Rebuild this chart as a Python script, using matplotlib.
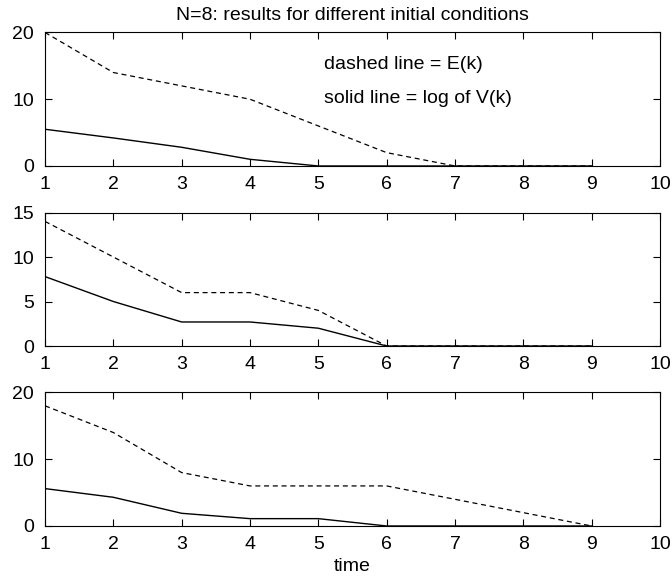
import matplotlib
matplotlib.use("Agg")
import matplotlib.pyplot as plt

plt.rcParams["font.family"] = ["Liberation Sans", "DejaVu Sans"]
plt.rcParams["font.size"] = 14

time = [1, 2, 3, 4, 5, 6, 7, 8, 9]

E1 = [20, 14, 12, 10, 6, 2, 0, 0, 0]
V1 = [5.5, 4.2, 2.8, 1.0, 0, 0, 0, 0, 0]

E2 = [14, 10, 6, 6, 4, 0, 0, 0, 0]
V2 = [7.8, 5.0, 2.7, 2.7, 2.0, 0, 0, 0, 0]

E3 = [18, 14, 8, 6, 6, 6, 4, 2, 0]
V3 = [5.6, 4.3, 1.9, 1.1, 1.1, 0, 0, 0, 0]

ylims = [(0, 20), (0, 15), (0, 20)]
yticks = [[0, 10, 20], [0, 5, 10, 15], [0, 10, 20]]

fig = plt.figure(figsize=(6.72, 5.83), dpi=100)

bottoms = [0.7153, 0.4065, 0.0978]
series = [(E1, V1), (E2, V2), (E3, V3)]

for i in range(3):
    ax = fig.add_axes([0.067, bottoms[i], 0.915, 0.229])
    E, V = series[i]
    ax.plot(time, E, "k--", linewidth=0.9, dashes=(4, 3))
    ax.plot(time, V, "k-", linewidth=1.0)
    ax.set_xlim(1, 10)
    ax.set_ylim(*ylims[i])
    ax.set_xticks(range(1, 11))
    ax.set_yticks(yticks[i])
    ax.tick_params(direction="in", top=True, right=True, length=5, width=0.8,
                   labelsize=14)
    ax.tick_params(axis="x", pad=7)
    ax.tick_params(axis="y", pad=8)
    for sp in ax.spines.values():
        sp.set_linewidth(0.8)
    if i == 0:
        ax.set_title("N=8: results for different initial conditions",
                     fontsize=14, pad=9)
        ax.text(5.08, 14.6, "dashed line = E(k)", fontsize=14, va="baseline")
        ax.text(5.08, 9.4, "solid line = log of V(k)", fontsize=14, va="baseline")
    if i == 2:
        ax.set_xlabel("time", fontsize=14, labelpad=4)

fig.savefig("out.png", dpi=100)
